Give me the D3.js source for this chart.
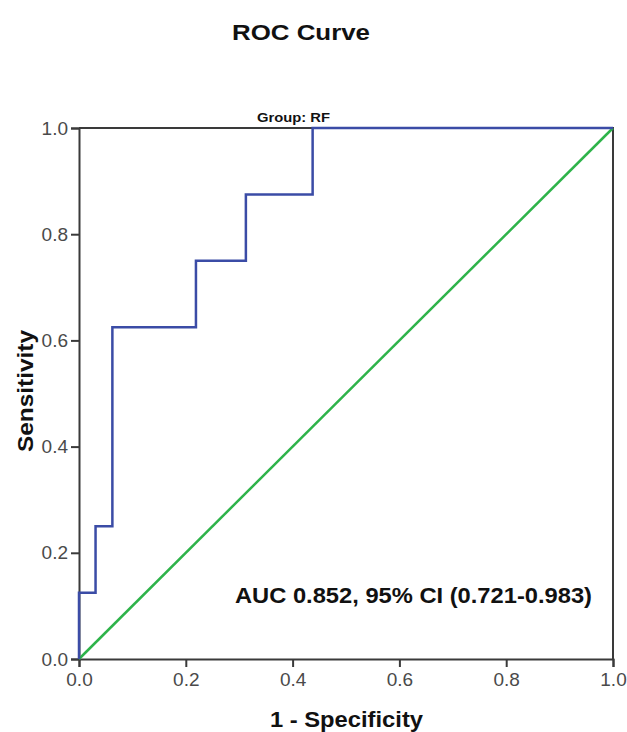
<!DOCTYPE html>
<html>
<head>
<meta charset="utf-8">
<script src="https://cdn.jsdelivr.net/npm/d3@7"></script>
<style>
  body { margin: 0; background: #fff; }
  text { font-family: "Liberation Sans", Arial, sans-serif; }
  .axis text { font-size: 19px; fill: #4a4a4a; }
</style>
</head>
<body>
<script>
// ROC steps
const fpr = [0, 0, 0.031, 0.031, 0.0625, 0.0625, 0.219, 0.219, 0.3125, 0.3125, 0.4375, 0.4375, 1]
const tpr = [0, 0.125, 0.125, 0.25, 0.25, 0.625, 0.625, 0.75, 0.75, 0.875, 0.875, 1, 1]
const refLine = [0, 1]
const ticks = [0, 0.2, 0.4, 0.6, 0.8, 1.0]

const width = 627, height = 732
const margin = {top: 128, bottom: 73, left: 79, right: 14}

const svg = d3.select("body")
  .append("svg")
  .attr("width", width)
  .attr("height", height)

const g = svg.append("g")
  .attr("transform", `translate(${margin.left},${margin.top})`)

const w = width - margin.left - margin.right
const h = height - margin.top - margin.bottom

const x = d3.scaleLinear().domain([0, 1]).range([0, w])
const y = d3.scaleLinear().domain([0, 1]).range([h, 0])

// frame top / right
g.append("path")
  .attr("d", `M0,0H${w}V${h}`)
  .attr("fill", "none")
  .attr("stroke", "#3a3a3a")
  .attr("stroke-width", 2)

const xaxis = d3.axisBottom(x).tickValues(ticks).tickFormat(d3.format(".1f")).tickSize(8).tickPadding(6)
const yaxis = d3.axisLeft(y).tickValues(ticks).tickFormat(d3.format(".1f")).tickSize(8).tickPadding(3)

const gx = g.append("g")
  .attr("class", "axis x")
  .attr("transform", `translate(0, ${h})`)
  .call(xaxis)
const gy = g.append("g")
  .attr("class", "axis y")
  .call(yaxis)

for (const a of [gx, gy]) {
  a.select(".domain").attr("stroke", "#3a3a3a").attr("stroke-width", 2)
  a.selectAll(".tick line").attr("stroke", "#3a3a3a").attr("stroke-width", 2)
}

// diagonal reference
g.append("line")
  .attr("x1", x(refLine[0])).attr("y1", y(refLine[0]))
  .attr("x2", x(refLine[1])).attr("y2", y(refLine[1]))
  .attr("stroke", "#2eb34a")
  .attr("stroke-width", 2.5)

// ROC curve
const line = d3.line().x(d => x(d[0])).y(d => y(d[1]))
g.append("path")
  .datum(fpr.map((f, i) => [f, tpr[i]]))
  .attr("d", line)
  .attr("fill", "none")
  .attr("stroke", "#3b4ca6")
  .attr("stroke-width", 2.5)

// labels (the source image is a bit stretched sideways, so fit widths)
svg.append("text")
  .attr("x", 232).attr("y", 40)
  .attr("textLength", 138).attr("lengthAdjust", "spacingAndGlyphs")
  .style("font-size", "22px").style("font-weight", "bold")
  .attr("fill", "#111")
  .text("ROC Curve")

svg.append("text")
  .attr("x", 257).attr("y", 122)
  .attr("textLength", 73).attr("lengthAdjust", "spacingAndGlyphs")
  .style("font-size", "13px").style("font-weight", "bold")
  .attr("fill", "#111")
  .text("Group: RF")

svg.append("text")
  .attr("x", 270).attr("y", 727)
  .attr("textLength", 153).attr("lengthAdjust", "spacingAndGlyphs")
  .style("font-size", "22px").style("font-weight", "bold")
  .attr("fill", "#111")
  .text("1 - Specificity")

svg.append("text")
  .attr("transform", "translate(33,452) rotate(-90)")
  .attr("textLength", 122).attr("lengthAdjust", "spacingAndGlyphs")
  .style("font-size", "22px").style("font-weight", "bold")
  .attr("fill", "#111")
  .text("Sensitivity")

svg.append("text")
  .attr("x", 235).attr("y", 603)
  .attr("textLength", 357).attr("lengthAdjust", "spacingAndGlyphs")
  .style("font-size", "22px").style("font-weight", "bold")
  .attr("fill", "#111")
  .text("AUC 0.852, 95% CI (0.721-0.983)")
</script>
</body>
</html>
